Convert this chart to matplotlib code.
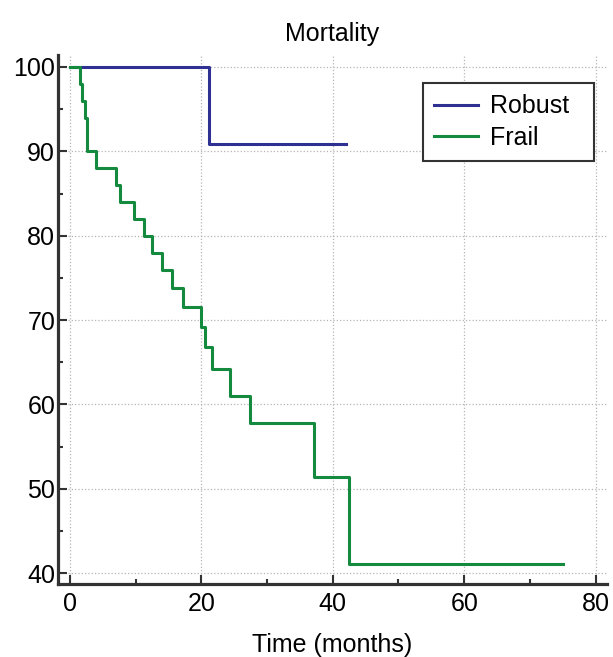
import matplotlib
matplotlib.use("Agg")
import matplotlib.pyplot as plt
from matplotlib.ticker import MultipleLocator

plt.rcParams['font.family'] = ['Liberation Sans', 'DejaVu Sans']

# Kaplan-Meier style step data
robust_t = [0, 21.2, 42.0]
robust_s = [100, 90.9, 90.9]

frail_t = [0, 1.5, 1.9, 2.3, 2.6, 4.0, 7.0, 7.7, 9.8, 11.3, 12.5, 14.0,
           15.6, 17.2, 19.9, 20.5, 21.7, 24.4, 27.4, 37.1, 42.5, 75.1]
frail_s = [100, 98, 96, 94, 90, 88, 86, 84, 82, 80, 78, 75.9,
           73.8, 71.6, 69.2, 66.8, 64.2, 61.0, 57.8, 51.4, 41.1, 41.1]

labels = ["Robust", "Frail"]
colors = ["#2e3192", "#138a3e"]

fs = 18

fig = plt.figure(figsize=(6.13, 6.57), dpi=100)
ax = fig.add_axes([0.0946, 0.111, 0.8954, 0.805])

ax.step(robust_t, robust_s, where='post', color=colors[0], lw=2.2, label=labels[0])
ax.step(frail_t, frail_s, where='post', color=colors[1], lw=2.2, label=labels[1])

ax.set_xlim(-1.8, 81.7)
ax.set_ylim(38.7, 101.4)
ax.xaxis.set_major_locator(MultipleLocator(20))
ax.xaxis.set_minor_locator(MultipleLocator(10))
ax.yaxis.set_major_locator(MultipleLocator(10))
ax.yaxis.set_minor_locator(MultipleLocator(5))

ax.grid(True, which='major', color='#b5b5b5', linestyle=':', linewidth=0.9)
for side in ['top', 'right']:
    ax.spines[side].set_visible(False)
for side in ['left', 'bottom']:
    ax.spines[side].set_color('#333333')
    ax.spines[side].set_linewidth(2.3)

ax.tick_params(which='both', direction='in', color='#333333', width=1.5,
               labelsize=fs)
ax.tick_params(which='major', length=6.5)
ax.tick_params(which='minor', length=3.5)
ax.tick_params(axis='x', pad=6)
ax.tick_params(axis='y', pad=2)

ax.set_xlabel("Time (months)", fontsize=fs, labelpad=12)
ax.set_title("Mortality", fontsize=fs, pad=10)

# fixed-width legend box, text left aligned with room on the right
leg = ax.legend(loc='upper left', bbox_to_anchor=(0.665, 0.5, 0.311, 0.447),
                mode='expand', borderaxespad=0,
                fontsize=fs, fancybox=False, framealpha=1, edgecolor='#333333',
                handlelength=1.75, handletextpad=0.5, borderpad=0.45,
                labelspacing=0.3)
leg.get_frame().set_linewidth(1.5)

fig.savefig("out.png", dpi=100)
